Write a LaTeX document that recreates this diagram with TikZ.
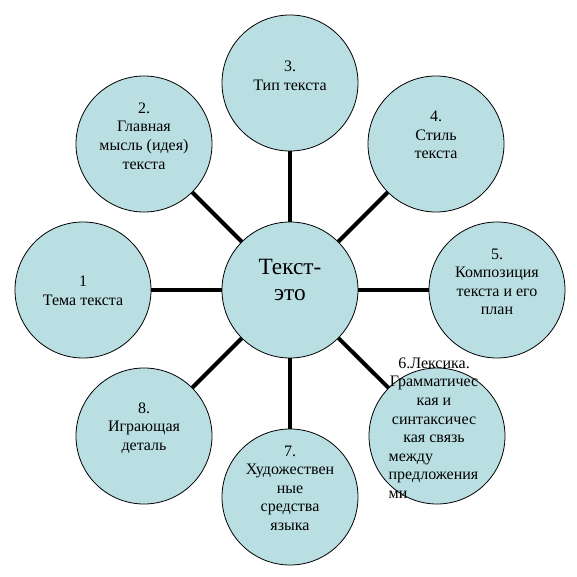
\documentclass[tikz,border=0pt]{standalone}
\usepackage{fontspec}
\setmainfont{Liberation Serif}
\newfontfamily\timesrus{Liberation Serif}
\usetikzlibrary{positioning}
\definecolor{paleteal}{RGB}{186,223,227}
\tikzset{
    bub/.style={draw, circle, fill=paleteal, line width=0.6pt,
                minimum size=102pt, inner sep=0pt},
    lbl/.style={align=center, font=\timesrus\fontsize{12}{13.9}\selectfont,
                inner sep=0pt},
}
\newcommand{\lline}[1]{\makebox[68pt][l]{#1}}

\begin{document}
\begin{tikzpicture}[
    x=0.75pt, y=-0.75pt,
    spk/.style={line width=3pt}
]
    \useasboundingbox (0,0) rectangle (577,577);
    % hub and the eight bubbles round it
    \node[bub] (hub) at (290,290) {};
    \node[bub] (b1) at (83,290) {};
    \node[bub] (b2) at (144,144) {};
    \node[bub] (b3) at (290,83) {};
    \node[bub] (b4) at (436,144) {};
    \node[bub] (b5) at (497,290) {};
    \node[bub] (b6) at (437,436) {};
    \node[bub] (b7) at (290,497) {};
    \node[bub] (b8) at (144,436) {};
    % spokes
    \foreach \i in {1,...,8}
        \draw[spk] (hub) -- (b\i);
    % texts
    \node[lbl, font=\timesrus\fontsize{17.5}{19.5}\selectfont] (thub) at (290,280)
        {Текст-\\это};
    \node[lbl] (t1) at (83,291) {1\\Тема текста};
    \node[lbl] (t2) at (144,136) {2.\\Главная\\мысль (идея)\\текста};
    \node[lbl] (t3) at (290,76) {3.\\Тип текста};
    \node[lbl] (t4) at (436,135) {4.\\Стиль\\текста};
    \node[lbl] (t5) at (497,282) {5.\\Композиция\\текста и его\\план};
    \node[lbl] (t6) at (434,428)
        {6.Лексика.\\Грамматичес\\кая и\\синтаксичес\\кая связь\\
         \lline{между}\\\lline{предложения}\\\lline{ми}};
    \node[lbl] (t7) at (290,488) {7.\\Художествен\\ные\\средства\\языка};
    \node[lbl] (t8) at (144,428) {8.\\Играющая\\деталь};
\end{tikzpicture}
\end{document}
